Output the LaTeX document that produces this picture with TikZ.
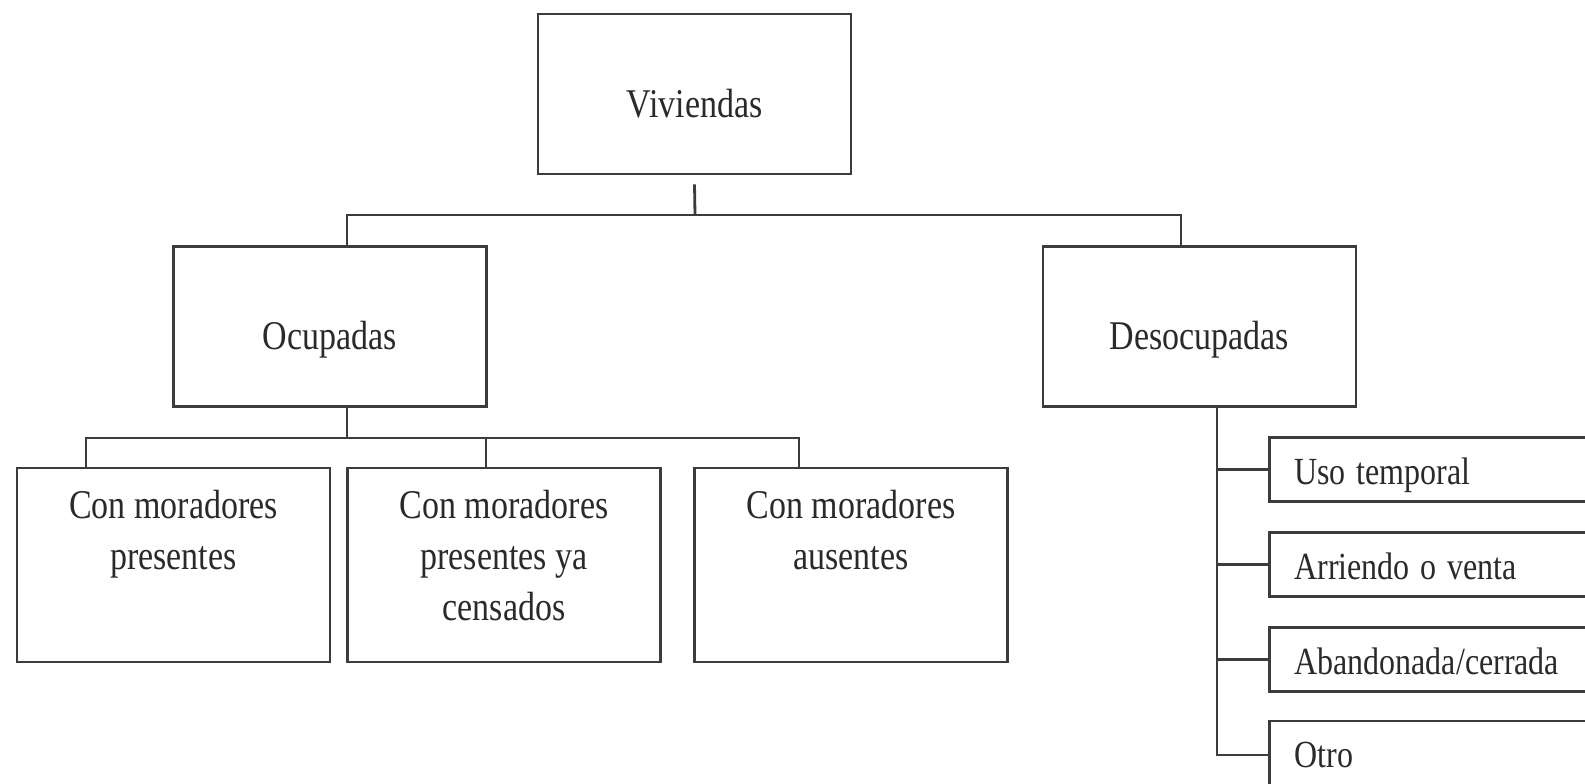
\documentclass[tikz,border=0pt]{standalone}
\usepackage{fontspec}
\usepackage{graphicx}
\setmainfont{Liberation Serif}
\newcommand{\vs}[1]{\scalebox{1}[1.2]{#1}}
\definecolor{linegray}{HTML}{3C3C3C}
\definecolor{textgray}{HTML}{2A2A2A}
\tikzset{
  boxbase/.style={draw=linegray, line width=1.4pt, rectangle, inner sep=0pt, text=textgray},
  topbox/.style={boxbase, minimum width=156.5pt, minimum height=80pt,
     font=\fontsize{17}{25.5}\selectfont, text height=23pt, text depth=0pt},
  lowbox/.style={boxbase, minimum width=156.5pt, minimum height=97pt},
  lowtxt/.style={inner sep=0pt, align=center, text=textgray, font=\fontsize{17}{25.5}\selectfont, anchor=north},
  sidebox/.style={boxbase, anchor=west, minimum height=32pt, text width=150pt, inner xsep=12.5pt,
     align=left, font=\fontsize{16}{20}\selectfont, text height=14.5pt, text depth=0pt},
  conn/.style={draw=linegray, line width=1.4pt}
}
\begin{document}
\begin{tikzpicture}[x=0.5pt,y=-0.5pt]
\useasboundingbox (0,0) rectangle (1585,783);
\clip (0,0) rectangle (1585,783);
\fill[white] (0,0) rectangle (1585,783);

% top level
\node[topbox] (vv) at (694.5,94) {\vs{Viviendas}};
\node[topbox] (oc) at (330,326.5) {\vs{Ocupadas}};
\node[topbox] (de) at (1199.5,326.5) {\vs{Desocupadas}};

% lower boxes (Ocupadas)
\node[lowbox] (c1) at (173.5,565) {};
\node[lowbox] (c2) at (504,565) {};
\node[lowbox] (c3) at (851,565) {};
\node[lowtxt] (c1t) at (173.5,490) {\vs{Con moradores}\\\vs{presentes}};
\node[lowtxt] (c2t) at (504,490) {\vs{Con moradores}\\\vs{presentes ya}\\\vs{censados}};
\node[lowtxt] (c3t) at (851,490) {\vs{Con moradores}\\\vs{ausentes}};

% side boxes (Desocupadas)
\node[sidebox] (r1) at (1268,469.5) {\vs{Uso temporal}};
\node[sidebox] (r2) at (1268,564.5) {\vs{Arriendo o venta}};
\node[sidebox] (r3) at (1268,659.5) {\vs{Abandonada/cerrada}};
\node[sidebox] (r4) at (1268,753) {\vs{Otro}};

% connectors
\coordinate (busA) at (695,215);
\coordinate (busB) at (347,438);
\draw[conn] ([yshift=-4.5pt]vv.south) -- (busA);
\draw[conn] ([xshift=8.5pt]oc.north) |- (busA) -| ([xshift=-9.25pt]de.north);
\draw[conn] ([xshift=8.5pt]oc.south) -- (busB);
\draw[conn] ([xshift=-43.75pt]c1.north) |- (busB) -| ([xshift=-26pt]c3.north);
\draw[conn] ([xshift=-9pt]c2.north) |- (busB);
\coordinate (trunk) at ([xshift=8.75pt]de.south);
\draw[conn] (trunk) |- ([yshift=-1pt]r4.west);
\foreach \r in {r1,r2,r3} {\draw[conn] (\r.west) -- (\r.west -| trunk);}
\end{tikzpicture}
\end{document}
